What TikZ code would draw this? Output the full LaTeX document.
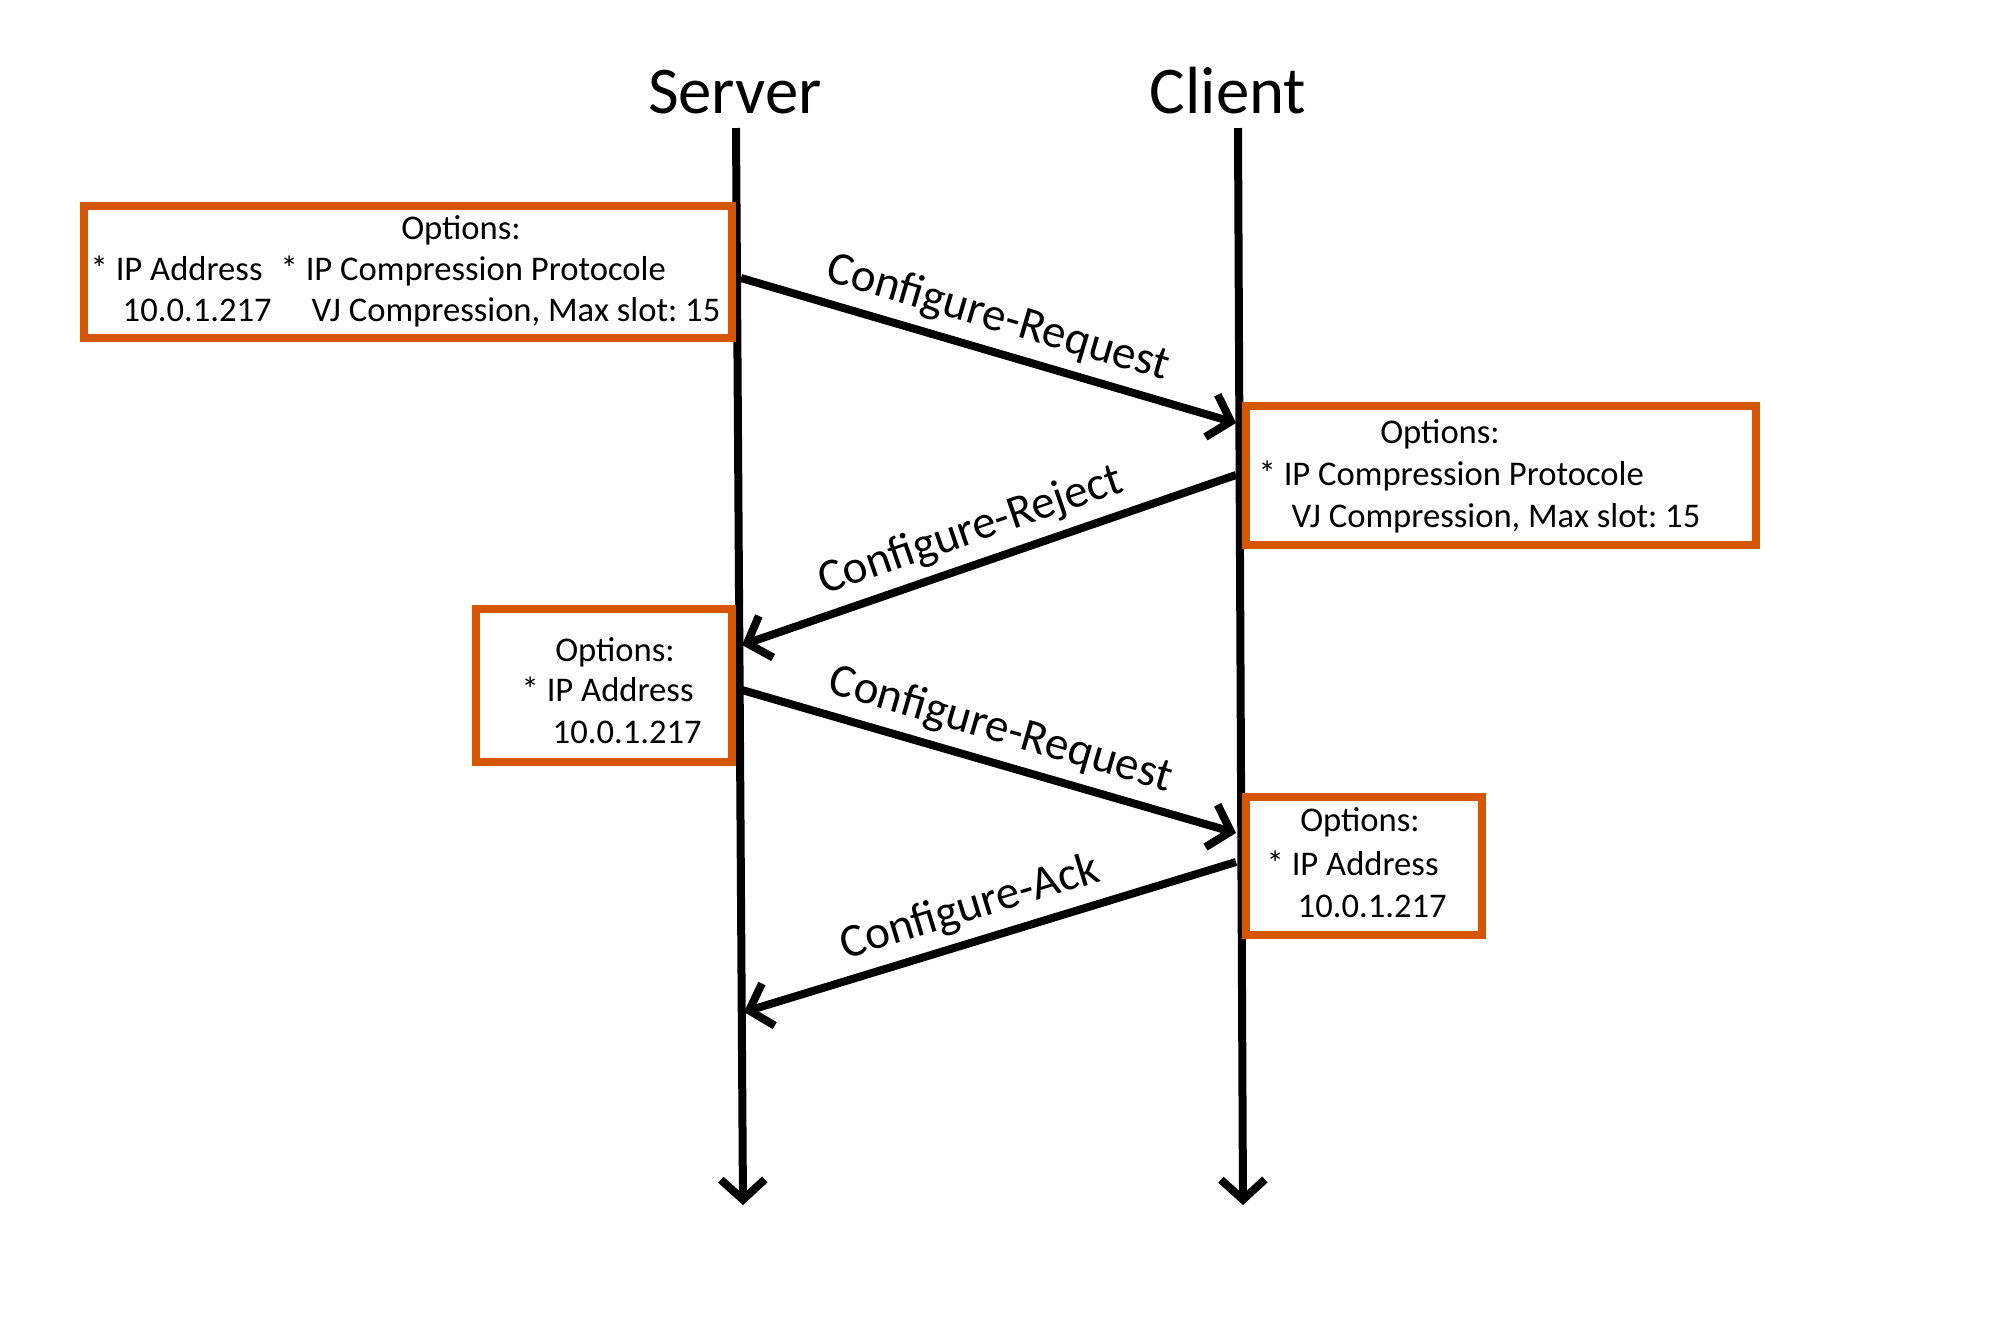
\documentclass[tikz,border=0pt]{standalone}
\usepackage{fontspec}
\setmainfont{Carlito}
\usetikzlibrary{arrows.meta}
\definecolor{boxorange}{RGB}{214,86,0}
\frenchspacing

\begin{document}
\begin{tikzpicture}[x=0.1mm, y=-0.1mm,
	head/.style = {font=\fontsize{19}{22}\selectfont, inner sep=0, anchor=base},
	optbox/.style = {draw=boxorange, line width=0.8mm, rectangle, inner sep=0},
	txt/.style = {font=\fontsize{9.85}{12}\selectfont, inner sep=0, anchor=base west},
	msg/.style = {line width=0.8mm, -{Straight Barb[length=2mm, width=4.4mm]}},
	lbl/.style = {font=\fontsize{13.4}{15}\selectfont, above, sloped, inner sep=2.5pt}]
	\useasboundingbox (0,0) rectangle (2009,1317);
	% lifelines
	\node[head] (server) at (735,113) {Server};
	\node[head] (client) at (1228,113) {Client};
	\coordinate (s0) at (736,128);
	\coordinate (s9) at (743,1205);
	\coordinate (c0) at (1238,128);
	\coordinate (c9) at (1243,1205);
	\draw[msg] (s0) -- (s9);
	\draw[msg] (c0) -- (c9);
	% option boxes
	\node[optbox, minimum width=64.8mm, minimum height=13.2mm] (1) at (408,272) {};
	\node[txt, anchor=base] (1a) at (461,239) {Options:};
	\node[txt] (1b) at (90,280) {* IP Address};
	\node[txt] (1c) at (280,280) {* IP Compression Protocole};
	\node[txt] (1d) at (122,321) {10.0.1.217};
	\node[txt] (1e) at (311,321) {VJ Compression, Max slot: 15};
	\node[optbox, minimum width=51mm, minimum height=13.9mm] (2) at (1501,475.5) {};
	\node[txt, anchor=base] (2a) at (1440,443) {Options:};
	\node[txt] (2b) at (1258,485) {* IP Compression Protocole};
	\node[txt] (2c) at (1291,527) {VJ Compression, Max slot: 15};
	\node[optbox, minimum width=25.6mm, minimum height=15.3mm] (3) at (604,685.5) {};
	\node[txt, anchor=base] (3a) at (615,661) {Options:};
	\node[txt] (3b) at (521,701) {* IP Address};
	\node[txt] (3c) at (552,743) {10.0.1.217};
	\node[optbox, minimum width=23.6mm, minimum height=13.8mm] (4) at (1364,866) {};
	\node[txt, anchor=base] (4a) at (1360,831) {Options:};
	\node[txt] (4b) at (1266,875) {* IP Address};
	\node[txt] (4c) at (1297,917) {10.0.1.217};
	% messages
	\coordinate (s1) at (741,278);
	\coordinate (c1) at (1236,423);
	\coordinate (c2) at (1236,475);
	\coordinate (s2) at (742,645);
	\coordinate (s3) at (742,690);
	\coordinate (c3) at (1236,833);
	\coordinate (c4) at (1236,862);
	\coordinate (s4) at (744,1012);
	\draw[msg] (s1) -- (c1) node[lbl, pos=0.5] {Configure-Request};
	\draw[msg] (c2) -- (s2) node[lbl, pos=0.515] {Configure-Reject};
	\draw[msg] (s3) -- (c3) node[lbl, pos=0.505] {Configure-Request};
	\draw[msg] (c4) -- (s4) node[lbl, pos=0.52] {Configure-Ack};
\end{tikzpicture}
\end{document}
